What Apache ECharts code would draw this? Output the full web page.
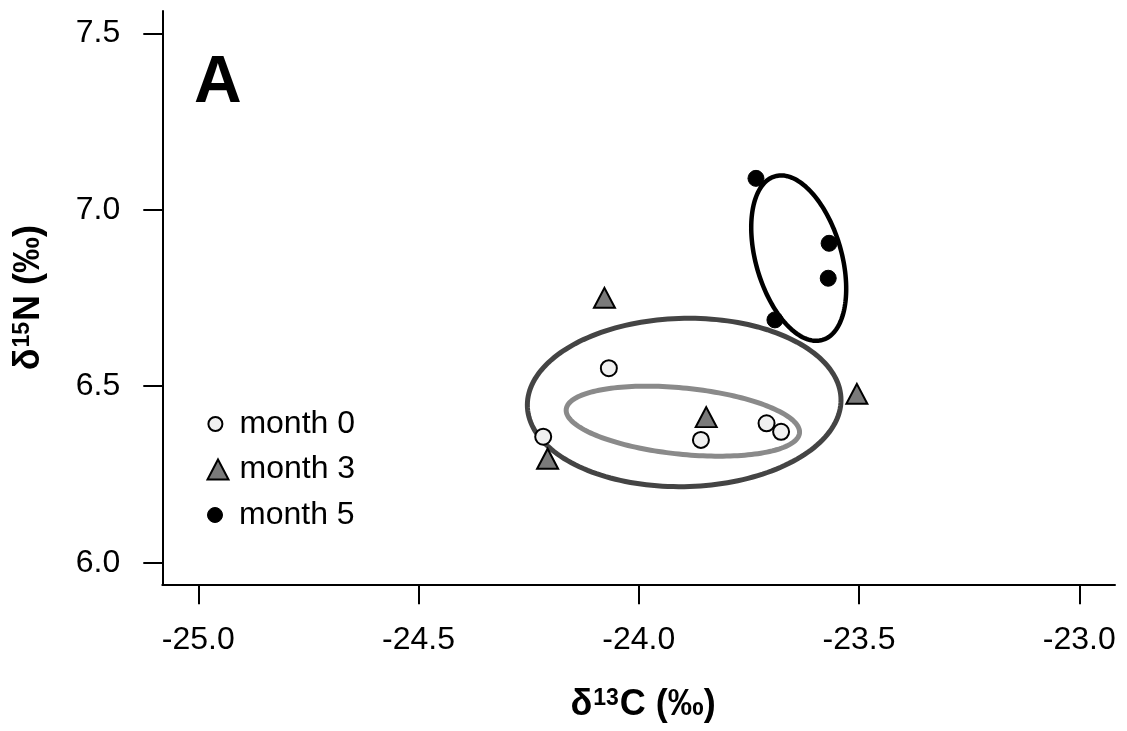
<!DOCTYPE html>
<html>
<head>
<meta charset="utf-8">
<script src="https://cdn.jsdelivr.net/npm/echarts@6/dist/echarts.min.js"></script>
<style>
html,body{margin:0;padding:0;background:#fff;}
#chart{width:1127px;height:731px;}
</style>
</head>
<body>
<div id="chart"></div>
<script>
// ---- data ----
const seriesNames = ['month 0', 'month 3', 'month 5'];
const month0X = [-24.217, -24.068, -23.859, -23.710, -23.677];
const month0Y = [6.357, 6.551, 6.348, 6.395, 6.371];
const month3X = [-24.078, -24.207, -23.847, -23.505];
const month3Y = [6.741, 6.285, 6.403, 6.469];
const month5X = [-23.734, -23.568, -23.570, -23.691];
const month5Y = [7.089, 6.905, 6.806, 6.688];

// standard ellipses: centre, half-extent in x and y, correlation
const ellipseCx = [-23.900, -23.897, -23.637];
const ellipseCy = [6.401, 6.454, 6.863];
const ellipseRx = [0.2649, 0.356, 0.1078];
const ellipseRy = [0.0992, 0.2386, 0.2343];
const ellipseRho = [-0.31, 0.03, -0.37];

const xTicks = [-25.0, -24.5, -24.0, -23.5, -23.0];
const yTicks = [6.0, 6.5, 7.0, 7.5];
const xMin = -25.0817, xMax = -22.919;
const yMin = 5.9388, yMax = 7.5632;

// ---- build ----
const FONT = "'Liberation Sans', Arial, sans-serif";
const pairs = (xs, ys) => xs.map((x, i) => [x, ys[i]]);
const ellipseColors = ['#8a8a8a', '#444444', '#000000'];
const ellipseWidths = [5, 5, 4.5];

function ellipseRenderer(color, width) {
  return function (params, api) {
    const cx = api.value(0), cy = api.value(1), rx = api.value(2), ry = api.value(3), rho = api.value(4);
    const s = Math.sqrt(1 - rho * rho);
    const pts = [];
    const n = 180;
    for (let i = 0; i <= n; i++) {
      const t = 2 * Math.PI * i / n;
      pts.push(api.coord([cx + rx * Math.cos(t), cy + ry * (rho * Math.cos(t) + s * Math.sin(t))]));
    }
    return {
      type: 'polygon',
      shape: { points: pts },
      style: { fill: 'none', stroke: color, lineWidth: width }
    };
  };
}

const ellipseSeries = seriesNames.map((nm, i) => ({
  type: 'custom',
  name: 'ellipse ' + nm,
  z: 1,
  clip: false,
  dimensions: ['x', 'y', 'rx', 'ry', 'rho'],
  encode: { x: 0, y: 1 },
  data: [[ellipseCx[i], ellipseCy[i], ellipseRx[i], ellipseRy[i], ellipseRho[i]]],
  renderItem: ellipseRenderer(ellipseColors[i], ellipseWidths[i]),
  silent: true
}));

const labelStyle = { fontFamily: FONT, fontSize: 32, color: '#000' };
const nameRich = {
  a: { fontFamily: FONT, fontSize: 36, fontWeight: 'bold', color: '#000', lineHeight: 36, verticalAlign: 'top' },
  s: { fontFamily: FONT, fontSize: 23, fontWeight: 'bold', color: '#000', lineHeight: 36, verticalAlign: 'top', padding: [0, 1, 0, 1] }
};

const legendBase = {
  orient: 'vertical',
  padding: 0,
  selectedMode: false,
  textStyle: { fontFamily: FONT, fontSize: 32, color: '#000' }
};

const option = {
  animation: false,
  backgroundColor: '#fff',
  title: {
    text: 'A',
    left: 194,
    top: 51,
    padding: 0,
    textStyle: { fontFamily: FONT, fontSize: 66, fontWeight: 'bold', color: '#000', lineHeight: 66 }
  },
  grid: { left: 162.3, right: 12, top: 11, bottom: 146.7, containLabel: false },
  legend: [
    Object.assign({}, legendBase, {
      data: ['month 0'], left: 207.4, top: 408, itemWidth: 38, itemHeight: 14,
      itemStyle: { color: '#f0f0f0', borderColor: '#000', borderWidth: 2 }
    }),
    Object.assign({}, legendBase, {
      data: ['month 3'], left: 206.5, top: 453.5, itemWidth: 21, itemHeight: 20,
      itemStyle: { color: '#7a7a7a', borderColor: '#000', borderWidth: 2 },
      textStyle: { fontFamily: FONT, fontSize: 32, color: '#000', padding: [0, 0, 0, 6] }
    }),
    Object.assign({}, legendBase, {
      data: ['month 5'], left: 207, top: 499, itemWidth: 38, itemHeight: 15,
      itemStyle: { color: '#000', borderColor: '#000', borderWidth: 1 }
    })
  ],
  xAxis: {
    type: 'value',
    min: xMin, max: xMax,
    name: '{a|δ}{s|13}{a|C (‰)}',
    nameLocation: 'middle',
    nameGap: 103,
    nameTextStyle: { rich: nameRich, padding: [0, 0, 0, 9] },
    axisLine: { show: true, onZero: false, lineStyle: { color: '#000', width: 2 } },
    axisTick: { show: true, length: 20, inside: false, customValues: xTicks, lineStyle: { color: '#000', width: 2 } },
    axisLabel: { show: true, customValues: xTicks, margin: 40, formatter: v => v.toFixed(1), ...labelStyle },
    splitLine: { show: false }
  },
  yAxis: {
    type: 'value',
    min: yMin, max: yMax,
    name: '{a|δ}{s|15}{a|N (‰)}',
    nameLocation: 'middle',
    nameRotate: 90,
    nameGap: 115,
    nameTextStyle: { rich: nameRich },
    axisLine: { show: true, onZero: false, lineStyle: { color: '#000', width: 2 } },
    axisTick: { show: true, length: 19, inside: false, customValues: yTicks, lineStyle: { color: '#000', width: 2 } },
    axisLabel: { show: true, customValues: yTicks, margin: 42, formatter: v => v.toFixed(1), ...labelStyle },
    splitLine: { show: false }
  },
  series: ellipseSeries.concat([
    {
      type: 'scatter', name: 'month 0', z: 3,
      symbol: 'circle', symbolSize: 16,
      itemStyle: { color: '#f0f0f0', borderColor: '#000', borderWidth: 2, opacity: 1 },
      data: pairs(month0X, month0Y)
    },
    {
      type: 'scatter', name: 'month 3', z: 3,
      symbol: 'triangle', symbolSize: [21, 20], symbolOffset: [0, '-16.67%'],
      itemStyle: { color: '#7a7a7a', borderColor: '#000', borderWidth: 2, opacity: 1 },
      data: pairs(month3X, month3Y)
    },
    {
      type: 'scatter', name: 'month 5', z: 3,
      symbol: 'circle', symbolSize: 16,
      itemStyle: { color: '#000', borderColor: '#000', borderWidth: 1, opacity: 1 },
      data: pairs(month5X, month5Y)
    }
  ])
};

const chart = echarts.init(document.getElementById('chart'), null, { renderer: 'canvas' });
chart.setOption(option);
</script>
</body>
</html>
